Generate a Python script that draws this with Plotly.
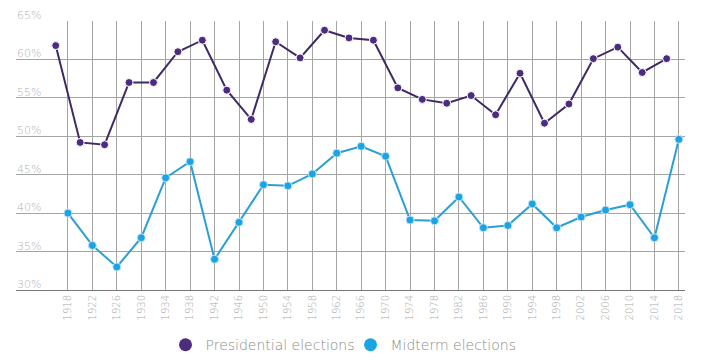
import plotly.graph_objects as go

pres_years = list(range(1916, 2017, 4))
pres_values = [61.8, 49.2, 48.9, 57.0, 57.0, 61.0, 62.5, 56.0, 52.2, 62.3, 60.2, 63.8, 62.8,
               62.5, 56.3, 54.8, 54.3, 55.3, 52.8, 58.2, 51.7, 54.2, 60.1, 61.6, 58.3, 60.1]

mid_years = list(range(1918, 2019, 4))
mid_values = [40.0, 35.8, 33.0, 36.8, 44.6, 46.7, 34.0, 38.8, 43.7, 43.55, 45.1, 47.8, 48.7,
              47.4, 39.1, 39.0, 42.1, 38.1, 38.4, 41.2, 38.1, 39.5, 40.4, 41.1, 36.8, 49.6]

y_ticks = [30, 35, 40, 45, 50, 55, 60, 65]
y_labels = [f"{v}%" for v in y_ticks]

PURPLE = "#4b2c7e"
BLUE = "#1ba3e3"
FONT = "DejaVu Sans"

fig = go.Figure()
fig.add_trace(go.Scatter(x=pres_years, y=pres_values, mode="lines+markers",
                         line=dict(color="#3f2a66", width=2),
                         marker=dict(color=PURPLE, size=8, line=dict(color="white", width=1)),
                         showlegend=False))
fig.add_trace(go.Scatter(x=mid_years, y=mid_values, mode="lines+markers",
                         line=dict(color="#2a9fd6", width=2),
                         marker=dict(color=BLUE, size=8, line=dict(color="#bfe6f8", width=1)),
                         showlegend=False))
fig.add_trace(go.Scatter(x=[None], y=[None], mode="markers", name="Presidential elections",
                         marker=dict(color=PURPLE, size=13)))
fig.add_trace(go.Scatter(x=[None], y=[None], mode="markers", name="Midterm elections",
                         marker=dict(color=BLUE, size=13)))

for v, lab in zip(y_ticks, y_labels):
    fig.add_annotation(x=0, xref="paper", xanchor="left", y=v, yref="y", yanchor="bottom",
                       text=lab, showarrow=False, yshift=-2, borderpad=0,
                       font=dict(family=FONT, size=11, color="#b0b0b0", weight=300))

fig.update_layout(
    width=705, height=360,
    margin=dict(l=8, r=28, t=13, b=78, autoexpand=False),
    plot_bgcolor="white", paper_bgcolor="white",
    font=dict(family=FONT, color="#a0a0a0", weight=300),
    legend=dict(orientation="h", x=0.5, xanchor="center", y=-0.205, yanchor="middle",
                font=dict(family=FONT, size=14, color="#8a8a8a", weight=300), itemwidth=30,
                entrywidth=140),
    xaxis=dict(range=[1909.5, 2019.0], tickvals=mid_years, ticktext=[str(y) for y in mid_years],
               tickangle=-90, tickfont=dict(family=FONT, size=10, color="#a8a8a8", weight=300),
               showgrid=True, gridcolor="#a5a5a5", gridwidth=1, automargin=False,
               showline=True, linecolor="#777", linewidth=1, zeroline=False, ticks=""),
    yaxis=dict(range=[30, 65], tickvals=y_ticks, showticklabels=False, automargin=False,
               showgrid=True, gridcolor="#a5a5a5", gridwidth=1, zeroline=False,
               showline=False, ticks=""),
)

fig.write_html("out.html")
